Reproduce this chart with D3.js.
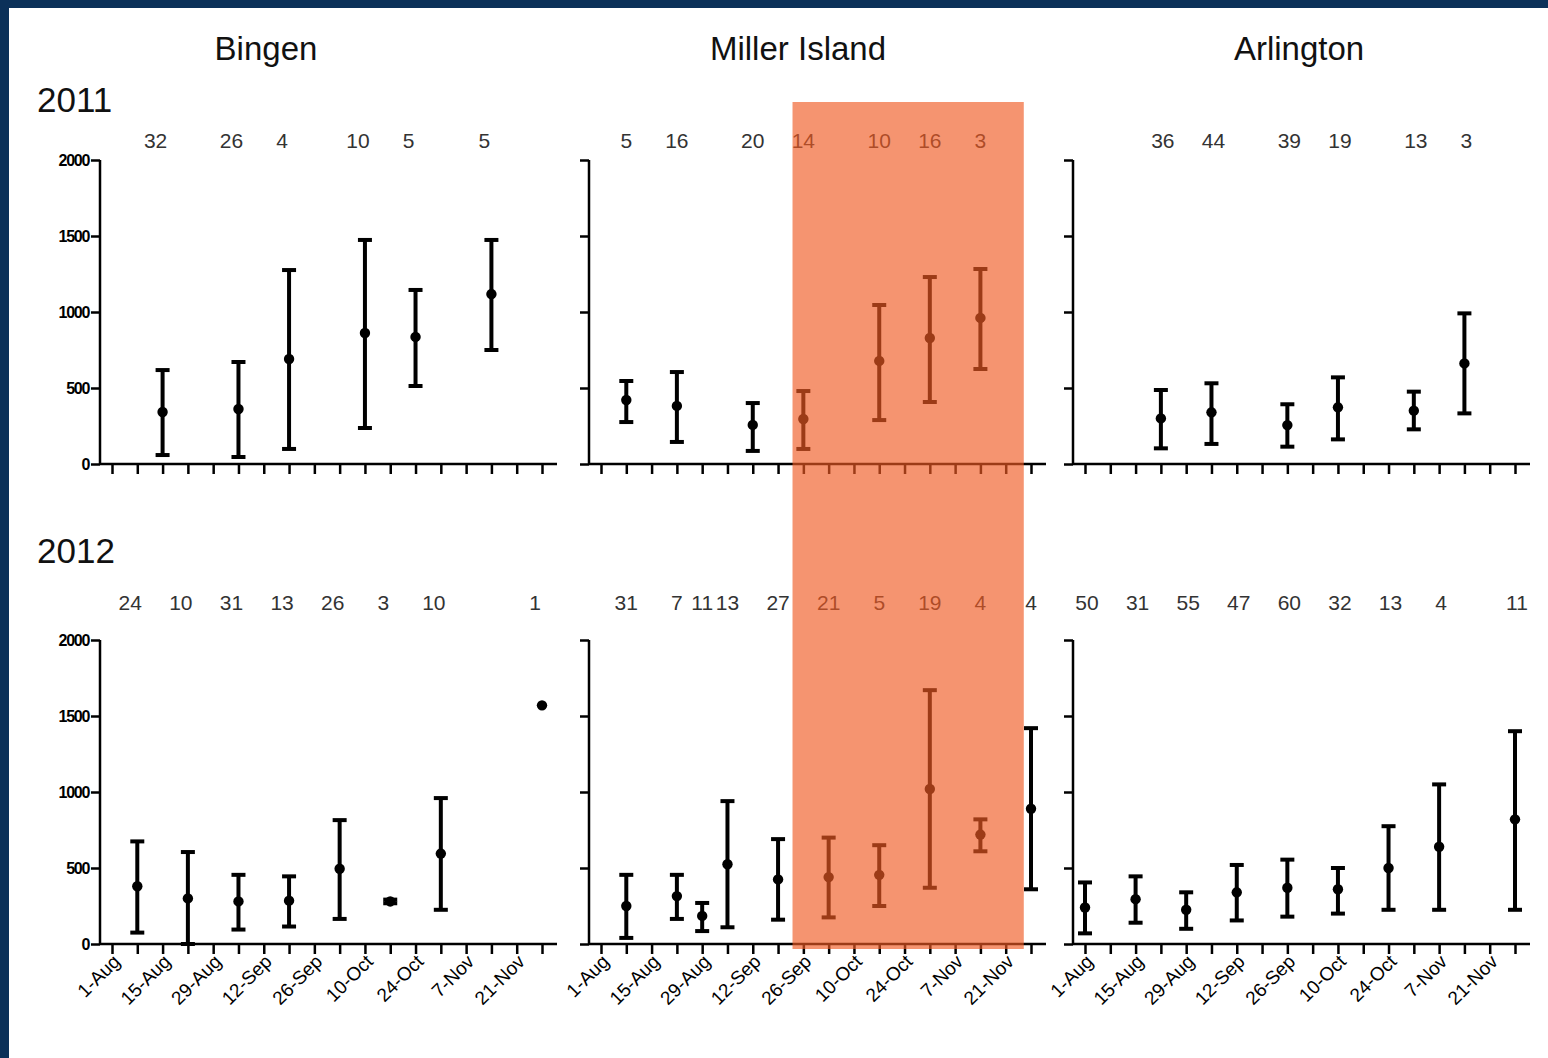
<!DOCTYPE html>
<html>
<head>
<meta charset="utf-8">
<script src="https://cdn.jsdelivr.net/npm/d3@7"></script>
<style>
  html, body { margin: 0; padding: 0; background: #0b3159; }
  svg { display: block; }
  text { font-family: "Liberation Sans", Arial, sans-serif; }
</style>
</head>
<body>
<script>
// ---- data ----
const sites = ["Bingen", "Miller Island", "Arlington"];
const years = ["2011", "2012"];
const yTicks = [0, 500, 1000, 1500, 2000];
const dateLabels = ["1-Aug", "15-Aug", "29-Aug", "12-Sep", "26-Sep", "10-Oct", "24-Oct", "7-Nov", "21-Nov"];

// 2011
const bingen11Dates = ["15-Aug", "5-Sep", "19-Sep", "10-Oct", "24-Oct", "14-Nov"];
const bingen11Mean = [342, 362, 691, 862, 836, 1118];
const bingen11Low = [59, 46, 99, 237, 513, 750];
const bingen11High = [618, 671, 1276, 1474, 1145, 1474];
const bingen11N = [32, 26, 4, 10, 5, 5];

const miller11Dates = ["8-Aug", "22-Aug", "12-Sep", "26-Sep", "17-Oct", "31-Oct", "14-Nov"];
const miller11Mean = [421, 382, 257, 296, 678, 829, 961];
const miller11Low = [276, 145, 86, 99, 289, 408, 625];
const miller11High = [546, 605, 401, 480, 1046, 1230, 1283];
const miller11N = [5, 16, 20, 14, 10, 16, 3];

const arl11Dates = ["22-Aug", "5-Sep", "26-Sep", "10-Oct", "31-Oct", "14-Nov"];
const arl11Mean = [300, 340, 256, 373, 351, 662];
const arl11Low = [103, 132, 114, 162, 228, 333];
const arl11High = [487, 531, 393, 570, 476, 991];
const arl11N = [36, 44, 39, 19, 13, 3];

// 2012
const bingen12Dates = ["8-Aug", "22-Aug", "5-Sep", "19-Sep", "3-Oct", "17-Oct", "31-Oct", "28-Nov"];
const bingen12Mean = [380, 300, 280, 285, 495, 280, 595, 1570];
const bingen12Low = [75, 0, 95, 115, 165, 268, 225, 1570];
const bingen12High = [675, 605, 455, 445, 815, 292, 960, 1570];
const bingen12N = [24, 10, 31, 13, 26, 3, 10, 1];

const miller12Dates = ["8-Aug", "22-Aug", "29-Aug", "5-Sep", "19-Sep", "3-Oct", "17-Oct", "31-Oct", "14-Nov", "28-Nov"];
const miller12Mean = [250, 315, 185, 525, 425, 440, 455, 1020, 720, 890];
const miller12Low = [40, 165, 85, 110, 160, 175, 250, 370, 610, 360];
const miller12High = [455, 455, 270, 940, 690, 700, 650, 1670, 820, 1420];
const miller12N = [31, 7, 11, 13, 27, 21, 5, 19, 4, 4];

const arl12Dates = ["1-Aug", "15-Aug", "29-Aug", "12-Sep", "26-Sep", "10-Oct", "24-Oct", "7-Nov", "28-Nov"];
const arl12Mean = [240, 295, 225, 340, 370, 360, 500, 640, 820];
const arl12Low = [70, 140, 100, 155, 180, 200, 225, 225, 225];
const arl12High = [405, 445, 340, 520, 555, 500, 775, 1050, 1400];
const arl12N = [50, 31, 55, 47, 60, 32, 13, 4, 11];

// highlighted period (Miller Island column)
const highlightFrom = "23-Sep";
const highlightTo = "26-Nov";

// ---- layout ----
const W = 1548, H = 1058;
const colX = [100, 589, 1073];
const rowY = [160, 640];
const countY = [148, 610];
const yearY = [112, 563];
const titleX = [266, 798, 1299];
const countDx = [-7, 0, 2];
const plotH = 304, axisLen = 457;

const parse = d3.timeParse("%d-%b");
const fmt = d3.timeFormat("%-d-%b");

const panels = [
  [bingen11Dates, bingen11Mean, bingen11Low, bingen11High, bingen11N],
  [miller11Dates, miller11Mean, miller11Low, miller11High, miller11N],
  [arl11Dates, arl11Mean, arl11Low, arl11High, arl11N],
  [bingen12Dates, bingen12Mean, bingen12Low, bingen12High, bingen12N],
  [miller12Dates, miller12Mean, miller12Low, miller12High, miller12N],
  [arl12Dates, arl12Mean, arl12Low, arl12High, arl12N]
];

const weeks = d3.range(18).map(i => d3.timeDay.offset(parse("1-Aug"), 7 * i));
const labelSet = new Set(dateLabels);

const x = d3.scaleTime().domain([weeks[0], weeks[17]]).range([12, 442]);
const y = d3.scaleLinear().domain([0, 2000]).range([plotH, 0]);

const svg = d3.select("body").append("svg").attr("width", W).attr("height", H);
svg.append("rect").attr("x", 0).attr("y", 0).attr("width", W).attr("height", H).attr("fill", "#0b3159");
svg.append("rect").attr("x", 9).attr("y", 8).attr("width", W - 9).attr("height", H - 8).attr("fill", "#fff");

// titles
svg.selectAll("text.site").data(sites).enter().append("text")
  .attr("class", "site")
  .attr("x", (d, i) => titleX[i]).attr("y", 60)
  .attr("text-anchor", "middle").attr("font-size", 33).attr("fill", "#111")
  .text(d => d);

svg.selectAll("text.year").data(years).enter().append("text")
  .attr("class", "year")
  .attr("x", 37).attr("y", (d, i) => yearY[i])
  .attr("font-size", 35).attr("fill", "#111")
  .text(d => d);

panels.forEach((p, k) => {
  const row = Math.floor(k / 3), col = k % 3;
  const [dates, mean, low, high, n] = p;
  const pts = dates.map((d, i) => ({ date: parse(d), mean: mean[i], low: low[i], high: high[i], n: n[i] }));

  const g = svg.append("g").attr("transform", `translate(${colX[col]},${rowY[row]})`);

  // y axis
  const yAxis = g.append("g").call(
    d3.axisLeft(y).tickValues(yTicks).tickSize(9).tickSizeOuter(0)
      .tickFormat(col === 0 ? d3.format("d") : () => "")
  );
  yAxis.select(".domain").remove();
  yAxis.selectAll("line").attr("stroke", "#000").attr("stroke-width", 2.5);
  yAxis.selectAll("text").attr("font-size", 16).attr("font-weight", "bold")
    .attr("letter-spacing", -1.3).attr("fill", "#000").attr("x", -11)
    .attr("font-family", "'Liberation Sans', Arial, sans-serif");

  // x axis
  const xAxis = g.append("g").attr("transform", `translate(0,${plotH})`).call(
    d3.axisBottom(x).tickValues(weeks).tickSize(10).tickSizeOuter(0)
      .tickFormat(d => (row === 1 && labelSet.has(fmt(d))) ? fmt(d) : "")
  );
  xAxis.select(".domain").remove();
  xAxis.selectAll("line").attr("stroke", "#000").attr("stroke-width", 2.5);
  xAxis.selectAll("text")
    .attr("font-size", 19).attr("fill", "#000")
    .attr("text-anchor", "end")
    .attr("font-family", "'Liberation Sans', Arial, sans-serif")
    .attr("transform", "translate(4,14) rotate(-45)")
    .attr("dy", "0.35em").attr("y", 0).attr("x", 0);

  g.append("line").attr("x1", 0).attr("x2", 0).attr("y1", 0).attr("y2", plotH)
    .attr("stroke", "#000").attr("stroke-width", 2.5);
  g.append("line").attr("x1", 0).attr("x2", axisLen).attr("y1", plotH).attr("y2", plotH)
    .attr("stroke", "#000").attr("stroke-width", 2.5);

  // error bars
  const bars = g.selectAll("g.bar").data(pts).enter().append("g").attr("class", "bar")
    .attr("transform", d => `translate(${x(d.date)},0)`);
  bars.filter(d => d.high > d.low).append("line")
    .attr("y1", d => y(d.low)).attr("y2", d => y(d.high))
    .attr("stroke", "#000").attr("stroke-width", 4);
  bars.filter(d => d.high > d.low).selectAll("line.cap")
    .data(d => [d.low, d.high]).enter().append("line").attr("class", "cap")
    .attr("x1", -7).attr("x2", 7).attr("y1", v => y(v)).attr("y2", v => y(v))
    .attr("stroke", "#000").attr("stroke-width", 4);
  bars.append("circle").attr("cy", d => y(d.mean)).attr("r", 5.2).attr("fill", "#000");

  // sample sizes
  svg.selectAll(null).data(pts).enter().append("text")
    .attr("x", d => colX[col] + x(d.date) + countDx[col]).attr("y", countY[row])
    .attr("text-anchor", "middle").attr("font-size", 21).attr("fill", "#333")
    .text(d => d.n);
});

// highlight overlay over Miller Island
svg.append("rect")
  .attr("x", colX[1] + x(parse(highlightFrom)))
  .attr("width", x(parse(highlightTo)) - x(parse(highlightFrom)))
  .attr("y", 102).attr("height", 847)
  .attr("fill", "rgb(240,90,35)").attr("opacity", 0.65);
</script>
</body>
</html>
